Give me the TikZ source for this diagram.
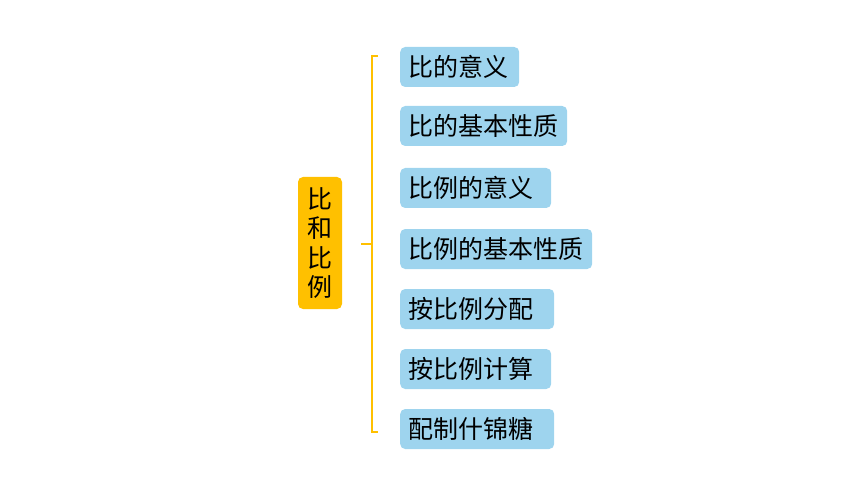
\documentclass[tikz,border=0pt]{standalone}
\usepackage{fontspec}
\newfontfamily\cjk{Noto Sans CJK SC}
\definecolor{boxblue}{RGB}{158,212,238}
\definecolor{gold}{RGB}{255,192,0}
\begin{document}
\begin{tikzpicture}[x=1pt,y=-1pt,
  item/.style={fill=boxblue,rounded corners=5pt,anchor=west,minimum height=40pt,
    inner xsep=8pt,inner ysep=0pt,align=left,font=\cjk\fontsize{25}{26}\selectfont,text=black},
  root/.style={fill=gold,rounded corners=5pt,minimum width=44pt,minimum height=132pt,
    inner sep=0pt,align=center,font=\cjk\fontsize{25}{29.5}\selectfont,text=black},
  brace/.style={draw=gold,line width=1.2pt}]
\useasboundingbox (0,0) rectangle (860,484);
\node[root] (r) at (320,243) {比\\和\\比\\例};
\node[item,text width=103pt] (a) at (400,67) {比的意义};
\node[item,text width=151pt] (b) at (400,126) {比的基本性质};
\node[item,text width=135pt] (c) at (400,188) {比例的意义};
\node[item,text width=176pt] (d) at (400,249) {比例的基本性质};
\node[item,text width=138pt] (e) at (400,309) {按比例分配};
\node[item,text width=135pt] (f) at (400,369) {按比例计算};
\node[item,text width=138pt] (g) at (400,429) {配制什锦糖};
\coordinate (t1) at (378,56);
\coordinate (t0) at (372,56);
\coordinate (b0) at (372,432);
\coordinate (b1) at (378,432);
\coordinate (m0) at (361,244);
\coordinate (m1) at (372,244);
\draw[brace] (t1) -- (t0) -- (b0) -- (b1);
\draw[brace] (m0) -- (m1);
\end{tikzpicture}
\end{document}
